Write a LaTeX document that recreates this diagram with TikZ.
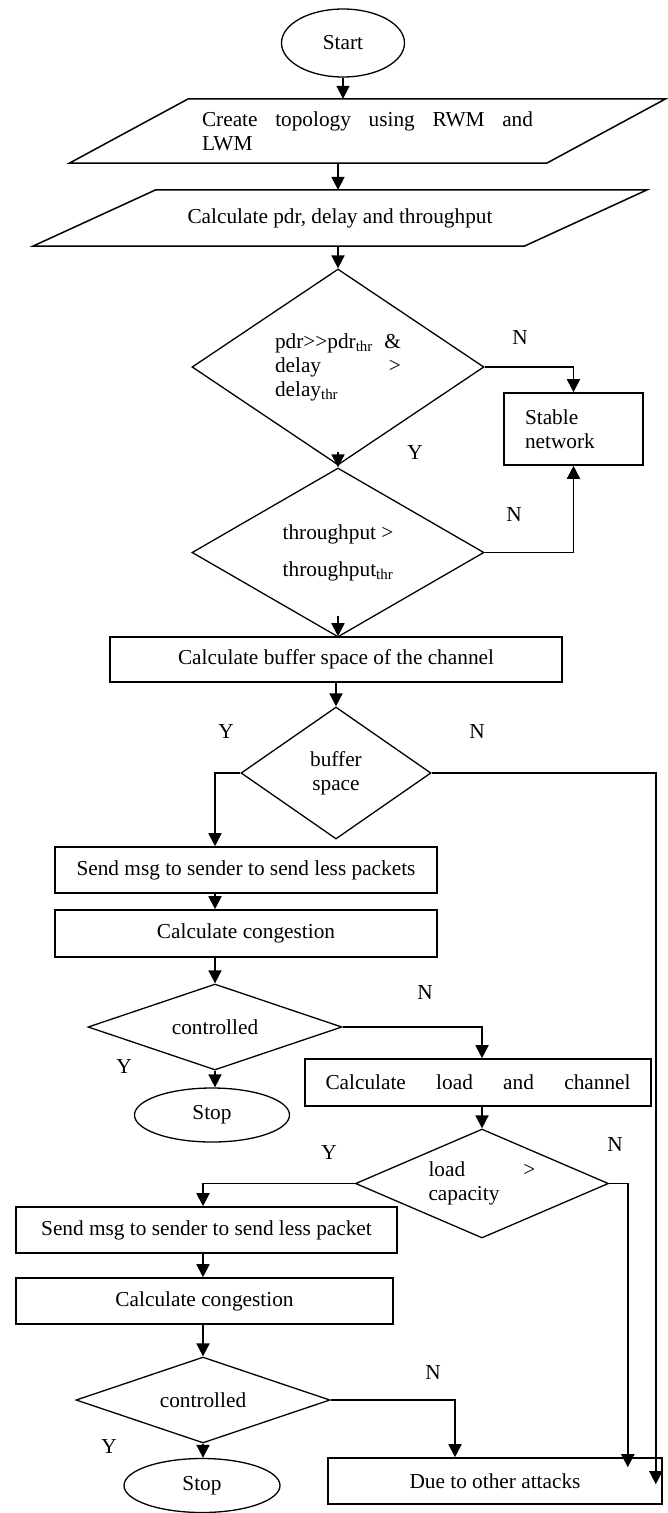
\documentclass[tikz,border=0pt]{standalone}
\usepackage{fontspec}
\setmainfont{Liberation Serif}
\usetikzlibrary{arrows.meta,calc,shapes.geometric}

\begin{document}
\begin{tikzpicture}[x=1pt,y=-1pt,
    every node/.style={font=\fontsize{21.3}{24}\selectfont, inner sep=0pt},
    procbox/.style={draw, line width=1.6pt, align=center},
    decision/.style={diamond, draw, line width=1.3pt, align=center},
    terminal/.style={ellipse, draw, line width=1.3pt},
    ioline/.style={line width=1.5pt, line join=miter},
    flow/.style={-{Triangle[length=13pt,width=13pt]}, line width=1.8pt}]
    \useasboundingbox (0,0) rectangle (667,1513);

    \node[terminal, minimum width=123, minimum height=68] (start) at (343,43) {Start};

    \node[minimum width=477, minimum height=64, align=left] (topo) at (367.5,131) {\makebox[331pt][s]{Create topology using RWM and}\\LWM};
    \node[minimum width=491, minimum height=56] (calcp) at (340,218) {Calculate pdr, delay and throughput};

    \node[decision, shape aspect=1.49, minimum width=292, minimum height=196, align=left] (d1) at (338,367) {\makebox[126pt][s]{pdr>{}>pdr\textsubscript{thr} \&}\\\makebox[126pt][s]{delay >}\\delay\textsubscript{thr}};
    \node[procbox, minimum width=139, minimum height=72, text width=97, align=left] (stable) at (573.5,429) {Stable\\network};
    \node[decision, shape aspect=1.73, minimum width=292, minimum height=169] (d2) at (338,552.5) {throughput >\\[13pt]throughput\textsubscript{thr}};

    \node[procbox, minimum width=452, minimum height=45] (buf) at (336,659.5) {Calculate buffer space of the channel};
    \node[decision, shape aspect=1.44, minimum width=190, minimum height=132] (bufd) at (336,773) {buffer\\space};

    \node[procbox, minimum width=382, minimum height=46] (send1) at (246,870) {Send msg to sender to send less packets};
    \node[procbox, minimum width=382, minimum height=47] (cong1) at (246,933.5) {Calculate congestion};
    \node[decision, shape aspect=2.95, minimum width=254, minimum height=86] (ctrl1) at (215,1027) {controlled};
    \node[terminal, minimum width=155, minimum height=54] (stop1) at (212,1115) {Stop};

    \node[procbox, minimum width=346, minimum height=47] (load) at (478,1082.5) {\makebox[305pt][s]{Calculate load and channel}};
    \node[decision, shape aspect=2.32, minimum width=253, minimum height=109, align=left] (loadd) at (482,1183.5) {\makebox[107pt][s]{load >}\\capacity};

    \node[procbox, minimum width=381, minimum height=46] (send2) at (206.5,1230) {Send msg to sender to send less packet};
    \node[procbox, minimum width=377, minimum height=46] (cong2) at (204.5,1301) {Calculate congestion};
    \node[decision, shape aspect=2.95, minimum width=254, minimum height=86] (ctrl2) at (203,1400) {controlled};
    \node[terminal, minimum width=156, minimum height=54] (stop2) at (202,1485.5) {Stop};

    \node[procbox, minimum width=334, minimum height=46] (attacks) at (495,1481) {Due to other attacks};

    \node (n1) at (520,338) {N};
    \node (y1) at (415,453) {Y};
    \node (n2) at (514,515) {N};
    \node (y3) at (226,732) {Y};
    \node (n3) at (477,732) {N};
    \node (n4) at (425,993) {N};
    \node (y4) at (124,1067) {Y};
    \node (y5) at (329,1153) {Y};
    \node (n5) at (615,1145) {N};
    \node (n6) at (433,1373) {N};
    \node (y6) at (109,1447) {Y};

    \draw[ioline] ([xshift=59.5pt]topo.north west) -- ([xshift=59.5pt]topo.north east) -- ([xshift=-59.5pt]topo.south east) -- ([xshift=-59.5pt]topo.south west) -- cycle;
    \draw[ioline] ([xshift=61.5pt]calcp.north west) -- ([xshift=61.5pt]calcp.north east) -- ([xshift=-61.5pt]calcp.south east) -- ([xshift=-61.5pt]calcp.south west) -- cycle;

    \coordinate (colA) at (215,0);
    \coordinate (colB) at (482,0);
    \coordinate (colC) at (203,0);
    \coordinate (colD) at (455,0);

    \draw[flow] (start.south) -- (start.south |- topo.north);
    \draw[flow] (d1.north |- topo.south) -- (d1.north |- calcp.north);
    \draw[flow] (d1.north |- calcp.south) -- (d1.north);
    \draw[flow] (d1.east) -| (stable.north);
    \draw[flow] ([yshift=14pt]d1.south) -- (d2.north);
    \draw[flow] (d2.east) -| (stable.south);
    \draw[flow] ([yshift=22pt]d2.south) -- (d2.south |- buf.north);
    \draw[flow] (buf.south) -- (bufd.north);
    \draw[flow] (bufd.west) -| (colA |- send1.north);
    \draw[flow] (bufd.east) -| ([xshift=-7pt,yshift=-27pt]attacks.north east);
    \draw[flow] (colA |- send1.south) -- (colA |- cong1.north);
    \draw[flow] (colA |- cong1.south) -- (ctrl1.north);
    \draw[flow] (ctrl1.south) -- (ctrl1.south |- stop1.north);
    \draw[flow] (ctrl1.east) -| (colB |- load.north);
    \draw[flow] (colB |- load.south) -- (loadd.north);
    \draw[flow] (loadd.west) -| (colC |- send2.north);
    \draw[flow] (loadd.east) -| ([xshift=-35pt,yshift=-10pt]attacks.north east);
    \draw[flow] (colC |- send2.south) -- (colC |- cong2.north);
    \draw[flow] (colC |- cong2.south) -- (ctrl2.north);
    \draw[flow] (ctrl2.south) -- (ctrl2.south |- stop2.north);
    \draw[flow] (ctrl2.east) -| (colD |- attacks.north);
\end{tikzpicture}
\end{document}
